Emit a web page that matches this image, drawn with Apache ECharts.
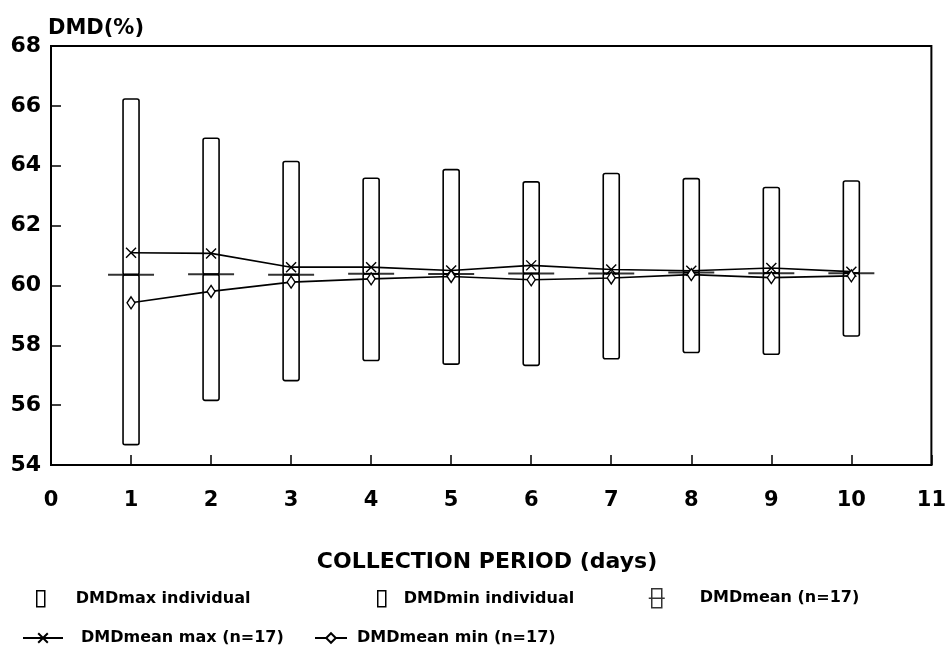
<!DOCTYPE html>
<html>
<head>
<meta charset="utf-8">
<script src="https://cdn.jsdelivr.net/npm/echarts@6/dist/echarts.min.js"></script>
<style>html,body{margin:0;padding:0;background:#fff}#c{width:949px;height:645px}</style>
</head>
<body>
<div id="c"></div>
<script>
const days = [1, 2, 3, 4, 5, 6, 7, 8, 9, 10];
const indivMax = [66.23, 64.92, 64.14, 63.58, 63.87, 63.46, 63.74, 63.57, 63.27, 63.49];
const indivMin = [54.68, 56.16, 56.82, 57.49, 57.37, 57.33, 57.55, 57.76, 57.70, 58.31];
const meanVals = [60.36, 60.37, 60.36, 60.39, 60.38, 60.40, 60.40, 60.43, 60.41, 60.41];
const meanMax = [61.09, 61.07, 60.61, 60.61, 60.50, 60.67, 60.53, 60.49, 60.58, 60.46];
const meanMin = [59.42, 59.80, 60.11, 60.22, 60.30, 60.19, 60.25, 60.36, 60.26, 60.32];
const xTicks = [0, 1, 2, 3, 4, 5, 6, 7, 8, 9, 10, 11];
const yTicks = [54, 56, 58, 60, 62, 64, 66, 68];

const FONT = '"DejaVu Sans", "Liberation Sans", Arial, sans-serif';
const chart = echarts.init(document.getElementById('c'));

function barRender(params, api) {
  const x = api.value(0);
  const lo = api.value(1), hi = api.value(2);
  const pTop = api.coord([x, hi]);
  const pBot = api.coord([x, lo]);
  const w = 16;
  return {
    type: 'rect',
    shape: { x: pTop[0] - w / 2, y: pTop[1], width: w, height: pBot[1] - pTop[1], r: 2 },
    style: { fill: 'none', stroke: '#000', lineWidth: 1.6 }
  };
}

const upperData = days.map((d, i) => [d, meanVals[i], indivMax[i]]);
const lowerData = days.map((d, i) => [d, indivMin[i], meanVals[i]]);

function legText(padLeft) {
  return { fontFamily: FONT, fontWeight: 'bold', fontSize: 16, color: '#000', padding: [0, 0, 0, padLeft] };
}
const rectIcon = 'path://M0,0L8,0L8,16L0,16Z';
const meanIcon = 'path://M3,0L13,0L13,18L3,18ZM0,9L16,9';
const hollow = { color: 'transparent', borderColor: '#000', borderWidth: 1.5 };

const option = {
  backgroundColor: '#fff',
  animation: false,
  grid: { left: 51, right: 13, top: 46, bottom: 180, show: true, borderColor: '#000', borderWidth: 2 },
  xAxis: {
    type: 'value', min: 0, max: 11, interval: 1,
    axisLine: { show: true, lineStyle: { color: '#000', width: 2 } },
    axisTick: { show: true, inside: true, length: 10, lineStyle: { color: '#000', width: 1.5 } },
    splitLine: { show: false },
    axisLabel: {
      margin: 25, color: '#000', fontFamily: FONT, fontWeight: 'bold', fontSize: 21,
      formatter: v => xTicks.includes(v) ? String(v) : ''
    }
  },
  yAxis: {
    type: 'value', min: 54, max: 68, interval: 2,
    axisLine: { show: true, lineStyle: { color: '#000', width: 2 } },
    axisTick: { show: true, inside: true, length: 10, lineStyle: { color: '#000', width: 1.5 } },
    splitLine: { show: false },
    axisLabel: {
      margin: 10, color: '#000', fontFamily: FONT, fontWeight: 'bold', fontSize: 22,
      formatter: v => yTicks.includes(v) ? String(v) : ''
    }
  },
  graphic: [
    { type: 'text', left: 48, top: 18, style: { text: 'DMD(%)', font: 'bold 21px ' + FONT, fill: '#000' } },
    { type: 'text', x: 487, y: 562, style: { text: 'COLLECTION PERIOD (days)', font: 'bold 22px ' + FONT, fill: '#000', align: 'center', verticalAlign: 'middle' } }
  ],
  legend: [
    { left: 36, top: 590, padding: 0, itemWidth: 8, itemHeight: 16, symbolKeepAspect: false, textStyle: legText(26),
      data: [{ name: 'DMDmax individual', icon: rectIcon, itemStyle: hollow }] },
    { left: 377, top: 590, padding: 0, itemWidth: 8, itemHeight: 16, symbolKeepAspect: false, textStyle: legText(13),
      data: [{ name: 'DMDmin individual', icon: rectIcon, itemStyle: hollow }] },
    { left: 648, top: 588, padding: 0, itemWidth: 16, itemHeight: 19, symbolKeepAspect: false, textStyle: legText(30),
      data: [{ name: 'DMDmean (n=17)', icon: meanIcon, itemStyle: hollow }] },
    { left: 22, top: 630, padding: 0, itemWidth: 40, itemHeight: 12, textStyle: legText(13),
      data: ['DMDmean max (n=17)'] },
    { left: 314, top: 630, padding: 0, itemWidth: 32, itemHeight: 12, textStyle: legText(5),
      data: ['DMDmean min (n=17)'] }
  ],
  series: [
    { name: 'DMDmax individual', type: 'custom', renderItem: barRender, data: upperData,
      itemStyle: { color: 'transparent', borderColor: '#000' }, encode: { x: 0, y: [1, 2] }, z: 2 },
    { name: 'DMDmin individual', type: 'custom', renderItem: barRender, data: lowerData,
      itemStyle: { color: 'transparent', borderColor: '#000' }, encode: { x: 0, y: [1, 2] }, z: 2 },
    { name: 'DMDmean (n=17)', type: 'scatter', data: days.map((d, i) => [d, meanVals[i]]),
      symbol: 'rect', symbolSize: [46, 2], itemStyle: { color: '#000' }, z: 4 },
    { name: 'DMDmean max (n=17)', type: 'line', data: days.map((d, i) => [d, meanMax[i]]),
      symbol: 'path://M0,0L10,10M10,0L0,10', symbolSize: 10, showSymbol: true,
      lineStyle: { color: '#000', width: 1.6 },
      itemStyle: { color: '#000', borderColor: '#000', borderWidth: 1.4 }, z: 5 },
    { name: 'DMDmean min (n=17)', type: 'line', data: days.map((d, i) => [d, meanMin[i]]),
      symbol: 'diamond', symbolSize: [8, 12], showSymbol: true,
      lineStyle: { color: '#000', width: 1.6 },
      itemStyle: { color: '#fff', borderColor: '#000', borderWidth: 1.4 }, z: 5 }
  ]
};
chart.setOption(option);
</script>
</body>
</html>
